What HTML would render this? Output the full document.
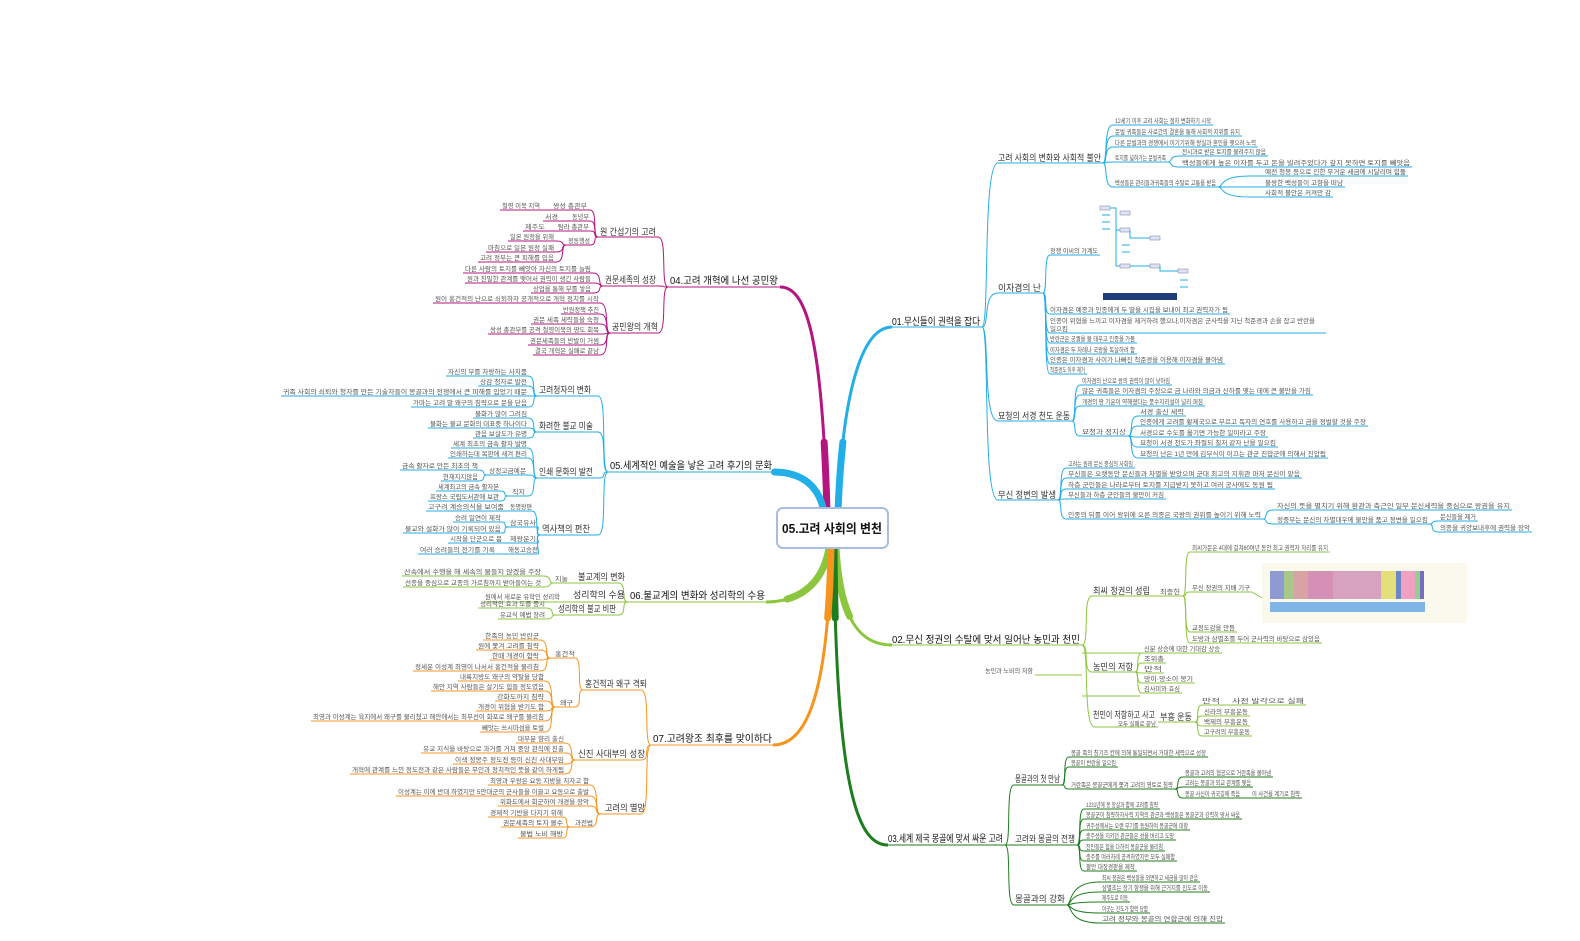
<!DOCTYPE html>
<html><head><meta charset="utf-8"><style>
html,body{margin:0;padding:0;background:#fff}
svg{display:block}
text{font-family:"Liberation Sans","Noto Sans CJK KR","NanumGothic",sans-serif;fill:#444}
.l{font-size:6.5px;fill:#555}
.s{font-size:9px;fill:#333}
.m{font-size:10px;fill:#111}
.b path{fill:none;stroke:#22aee6;stroke-width:1}
.g path{fill:none;stroke:#8cc63e;stroke-width:1}
.d path{fill:none;stroke:#1e7d1e;stroke-width:1}
.p path{fill:none;stroke:#b4157f;stroke-width:1}
.o path{fill:none;stroke:#f7941d;stroke-width:1}
path.t{stroke-width:3!important}
path.w{stroke-width:7!important;stroke-dasharray:70 2000;stroke-linecap:round}
</style></head><body>
<svg width="1580" height="941" viewBox="0 0 1580 941" xmlns="http://www.w3.org/2000/svg">

<!-- ===== Branch 01 (blue) ===== -->
<g class="b">
<path class="t" d="M838,512 C842,400 860,327 892,327"/>
<path class="w" d="M838,512 C842,400 860,327 892,327"/>
<path d="M892,327 H982"/>
<text class="m" x="892" y="325" textLength="88" lengthAdjust="spacingAndGlyphs">01.무신들이 권력을 잡다</text>
<path d="M982,327 C990,327 982,163 998,163 H1103"/>
<text class="s" x="998" y="161" textLength="103" lengthAdjust="spacingAndGlyphs">고려 사회의 변화와 사회적 불안</text>
<path d="M982,327 C990,327 982,293 998,293 H1043"/>
<text class="s" x="998" y="291" textLength="43" lengthAdjust="spacingAndGlyphs">이자겸의 난</text>
<path d="M982,327 C990,327 982,421 998,421 H1072"/>
<text class="s" x="998" y="419" textLength="72" lengthAdjust="spacingAndGlyphs">묘청의 서경 천도 운동</text>
<path d="M982,327 C990,327 982,500 998,500 H1058"/>
<text class="s" x="998" y="498" textLength="58" lengthAdjust="spacingAndGlyphs">무신 정변의 발생</text>

<path d="M1103,163 C1108,163 1103,125 1113,125 H1213"/><text class="l" x="1115" y="123" textLength="96" lengthAdjust="spacingAndGlyphs">12세기 이후 고려 사회는 점차 변화하기 시작</text>
<path d="M1103,163 C1108,163 1103,136 1113,136 H1242"/><text class="l" x="1115" y="134" textLength="125" lengthAdjust="spacingAndGlyphs">문벌 귀족들은 사로간의 결혼을 통해 사회적 지위를 유지</text>
<path d="M1103,163 C1108,163 1103,147 1113,147 H1258"/><text class="l" x="1115" y="145" textLength="141" lengthAdjust="spacingAndGlyphs">다른 문벌과의 경쟁에서 이기기위해 왕실과 혼인을 맺으려 노력</text>
<path d="M1103,163 C1108,163 1103,162 1113,162 H1168"/><text class="l" x="1115" y="160" textLength="51" lengthAdjust="spacingAndGlyphs">토지를 넓혀가는 문벌귀족</text>
<path d="M1168,162 C1173,162 1168,156 1180,156 H1268"/><text class="l" x="1182" y="154" textLength="84" lengthAdjust="spacingAndGlyphs">전시과로 받은 토지를 물려주지 않음</text>
<path d="M1168,162 C1173,162 1168,167 1180,167 H1412"/><text class="l" x="1182" y="165" textLength="228" lengthAdjust="spacingAndGlyphs">백성들에게 높은 이자를 두고 돈을 빌려주었다가 갚지 못하면 토지를 빼앗음</text>
<path d="M1103,163 C1108,163 1103,187 1113,187 H1218"/><text class="l" x="1115" y="185" textLength="101" lengthAdjust="spacingAndGlyphs">백성들은 관리들과귀족들의 수탈로 고통을 받음</text>
<path d="M1218,187 C1224,187 1218,176 1250,176 H1408"/><text class="l" x="1265" y="174" textLength="141" lengthAdjust="spacingAndGlyphs">예전 청봉 등으로 인한 무거운 세금에 시달리며 힘듦</text>
<path d="M1218,187 C1224,187 1218,187 1250,187 H1345"/><text class="l" x="1265" y="185" textLength="78" lengthAdjust="spacingAndGlyphs">불쌍한 백성들이 고향을 떠남</text>
<path d="M1218,187 C1224,187 1218,197 1250,197 H1333"/><text class="l" x="1265" y="195" textLength="66" lengthAdjust="spacingAndGlyphs">사회적 불안은 커져만 감</text>

<path d="M1043,293 C1048,293 1043,255 1050,255 H1100"/><text class="l" x="1050" y="253" textLength="48" lengthAdjust="spacingAndGlyphs">정쟁 이씨의 가계도</text>
<path d="M1043,293 C1048,293 1043,314 1050,314 H1230"/><text class="l" x="1050" y="312" textLength="178" lengthAdjust="spacingAndGlyphs">이자겸은 예종과 인종에게 두 딸을 시집을 보내어 최고 권력자가 됨</text>
<path d="M1043,293 C1048,293 1043,333 1050,333 H1326"/><text class="l" x="1050" y="323" textLength="265" lengthAdjust="spacingAndGlyphs">인종이 위협을 느끼고 이자겸을 제거하려 했으나,이자겸은 군사력을 지닌 척준경과 손을 잡고 반란을</text><text class="l" x="1050" y="331">일으킴</text>
<path d="M1043,293 C1048,293 1043,343 1050,343 H1137"/><text class="l" x="1050" y="341" textLength="85" lengthAdjust="spacingAndGlyphs">반란군은 궁궐을 불 태우고 인종을 가둠</text>
<path d="M1043,293 C1048,293 1043,354 1050,354 H1137"/><text class="l" x="1050" y="352" textLength="85" lengthAdjust="spacingAndGlyphs">이자겸은 두 차례나 국왕을 독살하려 함</text>
<path d="M1043,293 C1048,293 1043,364 1050,364 H1225"/><text class="l" x="1050" y="362" textLength="173" lengthAdjust="spacingAndGlyphs">인종은 이자겸과 사이가 나빠진 척준경을 이용해 이자겸을 몰아냄</text>
<path d="M1043,293 C1048,293 1043,374 1050,374 H1087"/><text class="l" x="1050" y="372" textLength="35" lengthAdjust="spacingAndGlyphs">척준경도 이후 제거</text>
<g fill="#dfe3f3" stroke="#8890b0" stroke-width="0.6">
<rect x="1100" y="206" width="10" height="4"/><rect x="1120" y="211" width="10" height="4"/>
<rect x="1120" y="228" width="10" height="4"/><rect x="1150" y="236" width="10" height="4"/>
<rect x="1120" y="264" width="10" height="4"/><rect x="1150" y="264" width="10" height="4"/><rect x="1178" y="269" width="10" height="4"/>
<path fill="none" d="M1110,208 H1116 V266 H1120 M1116,230 H1120 M1130,230 V238 H1150 M1130,266 H1150 M1160,266 V271 H1178"/>
<path fill="none" stroke="#bbb" d="M1102,215 H1110 M1102,222 H1110 M1102,229 H1110 M1122,245 H1130 M1122,252 H1130 M1180,280 H1188 M1180,287 H1188"/>
<rect x="1103" y="293" width="74" height="7" fill="#1e3c78" stroke="none"/>
</g>

<path d="M1072,421 C1077,421 1072,385 1080,385 H1172"/><text class="l" x="1082" y="383" textLength="88" lengthAdjust="spacingAndGlyphs">이자겸의 난으로 왕의 권력이 많이 낮아짐</text>
<path d="M1072,421 C1077,421 1072,395 1080,395 H1313"/><text class="l" x="1082" y="393" textLength="229" lengthAdjust="spacingAndGlyphs">많은 귀족들은 이자겸의 주장으로 금 나라와 의금과 신하를 맺는 데에 큰 불만을 가짐</text>
<path d="M1072,421 C1077,421 1072,406 1080,406 H1205"/><text class="l" x="1082" y="404" textLength="121" lengthAdjust="spacingAndGlyphs">개경의 땅 기운이 약해졌다는 풍수지리설이 널리 퍼짐</text>
<path d="M1072,421 C1077,421 1072,436 1080,436 H1128"/><text class="l" x="1082" y="434" textLength="44" lengthAdjust="spacingAndGlyphs">묘청과 정지상</text>
<path d="M1128,436 C1134,436 1128,416 1138,416 H1186"/><text class="l" x="1140" y="414" textLength="44" lengthAdjust="spacingAndGlyphs">서경 출신 세력</text>
<path d="M1128,436 C1134,436 1128,426 1138,426 H1368"/><text class="l" x="1140" y="424" textLength="226" lengthAdjust="spacingAndGlyphs">인종에게 고려를 황제국으로 부르고 독자의 연호를 사용하고 금을 정벌할 것을 주장</text>
<path d="M1128,436 C1134,436 1128,437 1138,437 H1268"/><text class="l" x="1140" y="435" textLength="126" lengthAdjust="spacingAndGlyphs">서경으로 수도를 옮기면 가능한 일이라고 주장</text>
<path d="M1128,436 C1134,436 1128,447 1138,447 H1278"/><text class="l" x="1140" y="445" textLength="136" lengthAdjust="spacingAndGlyphs">묘청이 서경 천도가 좌절되 칠저 같자 난을 일으킴</text>
<path d="M1128,436 C1134,436 1128,458 1138,458 H1328"/><text class="l" x="1140" y="456" textLength="186" lengthAdjust="spacingAndGlyphs">묘청의 난은 1년 만에 김부식이 이끄는 관군 진압군에 의해서 진압됨</text>

<path d="M1058,500 C1063,500 1058,468 1066,468 H1135"/><text class="l" x="1068" y="466" textLength="65" lengthAdjust="spacingAndGlyphs">고려는 원래 문신 중심의 사회임</text>
<path d="M1058,500 C1063,500 1058,478 1066,478 H1302"/><text class="l" x="1068" y="476" textLength="232" lengthAdjust="spacingAndGlyphs">무신들은 오랫동안 문신들과 차별을 받았으며 군대 최고의 지휘관 마저 문신이 맡음</text>
<path d="M1058,500 C1063,500 1058,489 1066,489 H1275"/><text class="l" x="1068" y="487" textLength="205" lengthAdjust="spacingAndGlyphs">하층 군인들은 나라로부터 토지를 지급받지 못하고 여러 공사에도 동원 됨</text>
<path d="M1058,500 C1063,500 1058,499 1066,499 H1166"/><text class="l" x="1068" y="497" textLength="96" lengthAdjust="spacingAndGlyphs">무신들과 하층 군인들의 불만이 커짐</text>
<path d="M1058,500 C1063,500 1058,519 1066,519 H1263"/><text class="l" x="1068" y="517" textLength="193" lengthAdjust="spacingAndGlyphs">인종의 뒤를 이어 왕위에 오른 의종은 국왕의 권위를 높이기 위해 노력</text>
<path d="M1263,519 C1268,519 1263,510 1273,510 H1512"/><text class="l" x="1277" y="508" textLength="233" lengthAdjust="spacingAndGlyphs">자신의 뜻을 펼치기 위해 환관과 측근인 일부 문신세력을 중심으로 왕권을 유지</text>
<path d="M1263,519 C1268,519 1263,524 1273,524 H1430"/><text class="l" x="1277" y="522" textLength="151" lengthAdjust="spacingAndGlyphs">정중부는 문신의 차별대우에 불만을 품고 정변을 일으킴</text>
<path d="M1430,524 C1434,524 1430,521 1438,521 H1478"/><text class="l" x="1440" y="519" textLength="36" lengthAdjust="spacingAndGlyphs">문신들을 제거</text>
<path d="M1430,524 C1434,524 1430,532 1438,532 H1532"/><text class="l" x="1440" y="530" textLength="90" lengthAdjust="spacingAndGlyphs">의종을 귀양보내후에 권력을 장악</text>
</g>

<!-- ===== Branch 02 (light green) ===== -->
<g class="g">
<path class="t" d="M836,548 C840,620 860,645 892,645"/>
<path class="w" d="M836,548 C840,620 860,645 892,645"/>
<path d="M892,645 H1082"/>
<text class="m" x="892" y="643" textLength="188" lengthAdjust="spacingAndGlyphs">02.무신 정권의 수탈에 맞서 일어난 농민과 천민</text>
<path d="M1082,645 C1090,645 1082,596 1092,596 H1183"/>
<text class="s" x="1093" y="594" textLength="57" lengthAdjust="spacingAndGlyphs">최씨 정권의 성립</text>
<text class="l" x="1160" y="594" textLength="20" lengthAdjust="spacingAndGlyphs">최충헌</text>
<path d="M1183,596 C1188,596 1183,552 1190,552 H1330"/><text class="l" x="1192" y="550" textLength="136" lengthAdjust="spacingAndGlyphs">최씨가문은 4대에 걸쳐60여년 동안 최고 권력자 자리를 유지</text>
<path d="M1183,596 C1188,596 1183,592 1190,592 H1252 L1262,598"/><text class="l" x="1192" y="590" textLength="58" lengthAdjust="spacingAndGlyphs">무신 정권의 지배 기구</text>
<path d="M1183,596 C1188,596 1183,632 1190,632 H1237"/><text class="l" x="1192" y="630" textLength="43" lengthAdjust="spacingAndGlyphs">교정도감을 만듬</text>
<path d="M1183,596 C1188,596 1183,643 1190,643 H1322"/><text class="l" x="1192" y="641" textLength="128" lengthAdjust="spacingAndGlyphs">도방과 삼별초를 두어 군사력의 바탕으로 삼았음</text>
<rect x="1262" y="563" width="205" height="60" fill="#fbf8ee"/>
<rect x="1270" y="571" width="14" height="28" fill="#8e9ad0"/><rect x="1284" y="571" width="10" height="28" fill="#a7c88b"/>
<rect x="1294" y="571" width="14" height="28" fill="#d9a3a3"/><rect x="1308" y="571" width="25" height="28" fill="#d590b5"/>
<rect x="1333" y="571" width="48" height="28" fill="#d7a2c0"/><rect x="1381" y="571" width="15" height="28" fill="#e3e07a"/>
<rect x="1396" y="571" width="5" height="28" fill="#6d86c8"/><rect x="1401" y="571" width="14" height="28" fill="#f0a0c0"/><rect x="1415" y="571" width="5" height="28" fill="#8fcf8f"/><rect x="1420" y="571" width="4" height="28" fill="#7a6dc0"/>
<rect x="1270" y="602" width="155" height="10" fill="#7fb5e6"/>

<path d="M1082,645 C1090,645 1082,672 1092,672 H1135"/>
<text class="s" x="1093" y="670" textLength="40" lengthAdjust="spacingAndGlyphs">농민의 저항</text>
<path d="M1035,675 H1082"/><text class="l" x="985" y="673" textLength="48" lengthAdjust="spacingAndGlyphs">농민과 노비의 저항</text>
<path d="M1082,653 H1140"/><path d="M1082,696 H1140"/>
<path d="M1135,672 C1140,672 1135,653 1142,653 H1222"/><text class="l" x="1144" y="651" textLength="76" lengthAdjust="spacingAndGlyphs">신분 상승에 대한 기대감 상승</text>
<path d="M1135,672 C1140,672 1135,663 1142,663 H1166"/><text class="l" x="1144" y="661" textLength="20" lengthAdjust="spacingAndGlyphs">조위총</text>
<path d="M1135,672 C1140,672 1135,673 1142,673 H1164"/><text class="l" x="1144" y="671" textLength="18" lengthAdjust="spacingAndGlyphs">만적</text>
<path d="M1135,672 C1140,672 1135,683 1142,683 H1195"/><text class="l" x="1144" y="681" textLength="49" lengthAdjust="spacingAndGlyphs">망이·망소이 봉기</text>
<path d="M1135,672 C1140,672 1135,693 1142,693 H1182"/><text class="l" x="1144" y="691" textLength="36" lengthAdjust="spacingAndGlyphs">김사미와 효심</text>

<path d="M1082,645 C1090,645 1082,727 1095,727 H1158"/>
<text class="s" x="1093" y="718" textLength="62" lengthAdjust="spacingAndGlyphs">천민이 저항하고 사고</text>
<text class="l" x="1118" y="726" textLength="38" lengthAdjust="spacingAndGlyphs">모두 실패로 끝남</text>
<path d="M1158,722 H1195"/>
<text class="s" x="1160" y="720" textLength="32" lengthAdjust="spacingAndGlyphs">부흥 운동</text>
<path d="M1195,722 C1200,722 1195,705 1202,705 H1228"/><text class="l" x="1202" y="703" textLength="18" lengthAdjust="spacingAndGlyphs">만적</text>
<path d="M1228,705 H1306"/><text class="l" x="1232" y="703" textLength="72" lengthAdjust="spacingAndGlyphs">사전 발각으로 실패</text>
<path d="M1195,722 C1200,722 1195,716 1202,716 H1250"/><text class="l" x="1204" y="714" textLength="44" lengthAdjust="spacingAndGlyphs">신라의 부흥운동</text>
<path d="M1195,722 C1200,722 1195,726 1202,726 H1250"/><text class="l" x="1204" y="724" textLength="44" lengthAdjust="spacingAndGlyphs">백제의 부흥운동</text>
<path d="M1195,722 C1200,722 1195,736 1202,736 H1252"/><text class="l" x="1204" y="734" textLength="46" lengthAdjust="spacingAndGlyphs">고구려의 부흥운동</text>
</g>

<!-- ===== Branch 03 (dark green) ===== -->
<g class="d">
<path class="t" d="M834,548 C836,800 860,845 888,845"/>
<path class="w" d="M834,548 C836,800 860,845 888,845"/>
<path d="M888,845 H1005"/>
<text class="m" x="888" y="842" textLength="115" lengthAdjust="spacingAndGlyphs">03.세계 제국 몽골에 맞서 싸운 고려</text>
<path d="M1005,845 C1012,845 1005,785 1014,785 H1062"/><text class="s" x="1015" y="782" textLength="45" lengthAdjust="spacingAndGlyphs">몽골과의 첫 만남</text>
<path d="M1005,845 C1012,845 1005,845 1014,845 H1077"/><text class="s" x="1015" y="842" textLength="60" lengthAdjust="spacingAndGlyphs">고려와 몽골의 전쟁</text>
<path d="M1005,845 C1012,845 1005,905 1014,905 H1067"/><text class="s" x="1015" y="902" textLength="50" lengthAdjust="spacingAndGlyphs">몽골과의 강화</text>

<path d="M1062,785 C1067,785 1062,757 1069,757 H1208"/><text class="l" x="1071" y="755" textLength="135" lengthAdjust="spacingAndGlyphs">몽골 족의 칭기즈 칸에 의해 통일되면서 거대한 세력으로 성장</text>
<path d="M1062,785 C1067,785 1062,767 1069,767 H1118"/><text class="l" x="1071" y="765" textLength="45" lengthAdjust="spacingAndGlyphs">몽골이 반란을 일으킴</text>
<path d="M1062,785 C1067,785 1062,789 1069,789 H1175"/><text class="l" x="1071" y="787" textLength="102" lengthAdjust="spacingAndGlyphs">거란족은 몽골군에게 쫓겨 고려의 영토로 침략</text>
<path d="M1175,789 C1180,789 1175,777 1183,777 H1273"/><text class="l" x="1185" y="775" textLength="86" lengthAdjust="spacingAndGlyphs">몽골과 고려의 협공으로 거란족을 몰아냄</text>
<path d="M1175,789 C1180,789 1175,787 1183,787 H1253"/><text class="l" x="1185" y="785" textLength="66" lengthAdjust="spacingAndGlyphs">고려는 몽골과 외교 관계를 맺음</text>
<path d="M1175,789 C1180,789 1175,798 1183,798 H1302"/><text class="l" x="1185" y="796" textLength="55" lengthAdjust="spacingAndGlyphs">몽골 사신이 귀국길에 죽음</text><text class="l" x="1252" y="796" textLength="48" lengthAdjust="spacingAndGlyphs">이 사건을 계기로 침략</text>

<path d="M1077,845 C1082,845 1077,809 1084,809 H1160"/><text class="l" x="1086" y="807" textLength="72" lengthAdjust="spacingAndGlyphs">1231년에 몽 장살과 함께 고려를 침략</text>
<path d="M1077,845 C1082,845 1077,819 1084,819 H1242"/><text class="l" x="1086" y="817" textLength="154" lengthAdjust="spacingAndGlyphs">몽골군이 침략하자사력 지역의 관군과 백성들은 몽골군과 강력히 맞서 싸움</text>
<path d="M1077,845 C1082,845 1077,830 1084,830 H1190"/><text class="l" x="1086" y="828" textLength="102" lengthAdjust="spacingAndGlyphs">귀주성에서는 오랜 무기를 동원하여 몽골군에 대항</text>
<path d="M1077,845 C1082,845 1077,840 1084,840 H1176"/><text class="l" x="1086" y="838" textLength="88" lengthAdjust="spacingAndGlyphs">충주성을 지키던 관군들은 성을 버리고 도망</text>
<path d="M1077,845 C1082,845 1077,851 1084,851 H1165"/><text class="l" x="1086" y="849" textLength="77" lengthAdjust="spacingAndGlyphs">천민들은 힘을 다하여 몽골군을 물리침</text>
<path d="M1077,845 C1082,845 1077,861 1084,861 H1177"/><text class="l" x="1086" y="859" textLength="89" lengthAdjust="spacingAndGlyphs">충주를 여러차례 공격하였지만 모두 실패함</text>
<path d="M1077,845 C1082,845 1077,871 1084,871 H1137"/><text class="l" x="1086" y="869" textLength="49" lengthAdjust="spacingAndGlyphs">팔만 대장경판을 제작</text>

<path d="M1067,905 C1072,905 1067,882 1100,882 H1200"/><text class="l" x="1102" y="880" textLength="96" lengthAdjust="spacingAndGlyphs">최씨 정권은 백성들을 외면하고 세금을 많이 걷음</text>
<path d="M1067,905 C1072,905 1067,892 1100,892 H1210"/><text class="l" x="1102" y="890" textLength="106" lengthAdjust="spacingAndGlyphs">삼별초는 장기 항쟁을 위해 근거지를 진도로 이동</text>
<path d="M1067,905 C1072,905 1067,902 1100,902 H1130"/><text class="l" x="1102" y="900" textLength="26" lengthAdjust="spacingAndGlyphs">제주도로 이동</text>
<path d="M1067,905 C1072,905 1067,913 1100,913 H1150"/><text class="l" x="1102" y="911" textLength="46" lengthAdjust="spacingAndGlyphs">이곳는 진도가 함락 당함</text>
<path d="M1067,905 C1072,905 1067,923 1100,923 H1225"/><text class="l" x="1102" y="921" textLength="121" lengthAdjust="spacingAndGlyphs">고려 정부와 몽골의 연합군에 의해 진압</text>
</g>

<!-- ===== Branch 04 (magenta) ===== -->
<g class="p">
<path class="t" d="M827,512 C822,330 805,287 780,287"/>
<path class="w" d="M827,512 C822,330 805,287 780,287"/>
<path d="M780,287 H668"/>
<text class="m" x="670" y="284" textLength="108" lengthAdjust="spacingAndGlyphs">04.고려 개혁에 나선 공민왕</text>
<path d="M668,287 C660,287 668,237 658,237 H598"/><text class="s" x="600" y="235" textLength="56" lengthAdjust="spacingAndGlyphs">원 간섭기의 고려</text>
<path d="M668,287 C660,287 668,286 658,286 H603"/><text class="s" x="605" y="283" textLength="51" lengthAdjust="spacingAndGlyphs">권문세족의 성장</text>
<path d="M668,287 C660,287 668,333 658,333 H610"/><text class="s" x="612" y="330" textLength="46" lengthAdjust="spacingAndGlyphs">공민왕의 개혁</text>

<path d="M598,237 C592,237 598,210 590,210 H500"/><text class="l" x="553" y="208" textLength="34" lengthAdjust="spacingAndGlyphs">쌍성 총관부</text><text class="l" x="502" y="208" textLength="38" lengthAdjust="spacingAndGlyphs">철령 이북 지역</text>
<path d="M598,237 C592,237 598,221 590,221 H543"/><text class="l" x="572" y="219" textLength="17" lengthAdjust="spacingAndGlyphs">동녕부</text><text class="l" x="545" y="219" textLength="13" lengthAdjust="spacingAndGlyphs">서경</text>
<path d="M598,237 C592,237 598,231 590,231 H523"/><text class="l" x="558" y="229" textLength="31" lengthAdjust="spacingAndGlyphs">탐라 총관부</text><text class="l" x="525" y="229" textLength="20" lengthAdjust="spacingAndGlyphs">제주도</text>
<path d="M598,237 C592,237 598,245 590,245 H566"/><text class="l" x="568" y="243" textLength="22" lengthAdjust="spacingAndGlyphs">정동행성</text>
<path d="M566,245 C560,245 566,241 556,241 H508"/><text class="l" x="510" y="239" textLength="44" lengthAdjust="spacingAndGlyphs">일본 원정을 위해</text>
<path d="M566,245 C560,245 566,252 556,252 H486"/><text class="l" x="488" y="250" textLength="66" lengthAdjust="spacingAndGlyphs">마침으로 일본 원정 실패</text>
<path d="M566,245 C560,245 566,262 556,262 H478"/><text class="l" x="480" y="260" textLength="74" lengthAdjust="spacingAndGlyphs">고려 정부는 큰 피해를 입음</text>

<path d="M603,286 C597,286 603,273 593,273 H463"/><text class="l" x="465" y="271" textLength="126" lengthAdjust="spacingAndGlyphs">다른 사람의 토지를 빼앗아 자신의 토지를 늘림</text>
<path d="M603,286 C597,286 603,283 593,283 H465"/><text class="l" x="467" y="281" textLength="124" lengthAdjust="spacingAndGlyphs">원과 친밀한 관계를 맺어서 권력이 생긴 사람들</text>
<path d="M603,286 C597,286 603,293 593,293 H531"/><text class="l" x="533" y="291" textLength="58" lengthAdjust="spacingAndGlyphs">상업을 통해 부를 쌓음</text>

<path d="M610,333 C604,333 610,303 600,303 H433"/><text class="l" x="435" y="301" textLength="164" lengthAdjust="spacingAndGlyphs">원이 홍건적의 난으로 쇠퇴하자 공개적으로 개혁 정치를 시작</text>
<path d="M610,333 C604,333 610,314 600,314 H561"/><text class="l" x="563" y="312" textLength="36" lengthAdjust="spacingAndGlyphs">반원정책 추진</text>
<path d="M610,333 C604,333 610,324 600,324 H531"/><text class="l" x="533" y="322" textLength="66" lengthAdjust="spacingAndGlyphs">권문 세족 세력들을 숙청</text>
<path d="M610,333 C604,333 610,334 600,334 H488"/><text class="l" x="490" y="332" textLength="109" lengthAdjust="spacingAndGlyphs">쌍성 총관부를 공격 철령이북의 땅도 회복</text>
<path d="M610,333 C604,333 610,345 600,345 H528"/><text class="l" x="530" y="343" textLength="69" lengthAdjust="spacingAndGlyphs">권문세족들의 반발이 거셈</text>
<path d="M610,333 C604,333 610,355 600,355 H533"/><text class="l" x="535" y="353" textLength="64" lengthAdjust="spacingAndGlyphs">결국 개혁은 실패로 끝남</text>
</g>

<!-- ===== Branch 05 (blue) ===== -->
<g class="b">
<path class="t" d="M824,512 C818,480 795,472 773,472"/>
<path class="w" d="M824,512 C818,480 795,472 773,472"/>
<path d="M773,472 H608"/>
<text class="m" x="610" y="469" textLength="162" lengthAdjust="spacingAndGlyphs">05.세계적인 예술을 낳은 고려 후기의 문화</text>
<path d="M608,472 C600,472 608,396 598,396 H537"/><text class="s" x="539" y="393" textLength="52" lengthAdjust="spacingAndGlyphs">고려청자의 변화</text>
<path d="M608,472 C600,472 608,432 598,432 H537"/><text class="s" x="539" y="429" textLength="54" lengthAdjust="spacingAndGlyphs">화려한 불교 미술</text>
<path d="M608,472 C600,472 608,478 598,478 H537"/><text class="s" x="539" y="475" textLength="54" lengthAdjust="spacingAndGlyphs">인쇄 문화의 발전</text>
<path d="M608,472 C600,472 608,535 598,535 H540"/><text class="s" x="542" y="532" textLength="48" lengthAdjust="spacingAndGlyphs">역사책의 편찬</text>

<path d="M537,396 C531,396 537,376 528,376 H446"/><text class="l" x="448" y="374" textLength="79" lengthAdjust="spacingAndGlyphs">자신의 부를 자랑하는 사치품</text>
<path d="M537,396 C531,396 537,386 528,386 H478"/><text class="l" x="480" y="384" textLength="47" lengthAdjust="spacingAndGlyphs">상감 청자로 발전</text>
<path d="M537,396 C531,396 537,396 528,396 H281"/><text class="l" x="283" y="394" textLength="244" lengthAdjust="spacingAndGlyphs">귀족 사회의 쇠퇴와 청자를 만든 기술자들이 몽골과의 전쟁에서 큰 피해를 입었기 때문</text>
<path d="M537,396 C531,396 537,407 528,407 H411"/><text class="l" x="413" y="405" textLength="114" lengthAdjust="spacingAndGlyphs">가마는 고려 말 왜구의 침략으로 문을 닫음</text>

<path d="M537,432 C531,432 537,418 528,418 H473"/><text class="l" x="475" y="416" textLength="52" lengthAdjust="spacingAndGlyphs">불화가 많이 그려짐</text>
<path d="M537,432 C531,432 537,428 528,428 H428"/><text class="l" x="430" y="426" textLength="97" lengthAdjust="spacingAndGlyphs">불화는 불교 문화의 대표중 하나이다</text>
<path d="M537,432 C531,432 537,438 528,438 H473"/><text class="l" x="475" y="436" textLength="52" lengthAdjust="spacingAndGlyphs">관음 보살도가 유명</text>

<path d="M537,478 C531,478 537,448 528,448 H451"/><text class="l" x="453" y="446" textLength="74" lengthAdjust="spacingAndGlyphs">세계 최초의 금속 활자 발명</text>
<path d="M537,478 C531,478 537,458 528,458 H448"/><text class="l" x="450" y="456" textLength="77" lengthAdjust="spacingAndGlyphs">인쇄하는데 목판에 새겨 편리</text>
<path d="M537,478 C531,478 537,475 528,475 H487"/><text class="l" x="489" y="473" textLength="37" lengthAdjust="spacingAndGlyphs">상정고금예문</text>
<path d="M487,475 C481,475 487,470 478,470 H400"/><text class="l" x="402" y="468" textLength="76" lengthAdjust="spacingAndGlyphs">금속 활자로 만든 최초의 책</text>
<path d="M487,475 C481,475 487,481 478,481 H441"/><text class="l" x="443" y="479" textLength="35" lengthAdjust="spacingAndGlyphs">현재지지않음</text>
<path d="M537,478 C531,478 537,496 528,496 H508"/><text class="l" x="512" y="494" textLength="13" lengthAdjust="spacingAndGlyphs">직지</text>
<path d="M508,496 C502,496 508,491 500,491 H436"/><text class="l" x="438" y="489" textLength="61" lengthAdjust="spacingAndGlyphs">세계최고의 금속 활자본</text>
<path d="M508,496 C502,496 508,501 500,501 H428"/><text class="l" x="430" y="499" textLength="69" lengthAdjust="spacingAndGlyphs">프랑스 국립도서관에 보관</text>

<path d="M540,535 C534,535 540,511 532,511 H426"/><text class="l" x="510" y="509" textLength="22" lengthAdjust="spacingAndGlyphs">동명왕편</text><text class="l" x="428" y="509" textLength="76" lengthAdjust="spacingAndGlyphs">고구려 계승의식을 보여줌</text>
<path d="M540,535 C534,535 540,527 538,527 H508"/><text class="l" x="510" y="525" textLength="26" lengthAdjust="spacingAndGlyphs">삼국유사</text>
<path d="M508,527 C502,527 508,522 502,522 H453"/><text class="l" x="455" y="520" textLength="46" lengthAdjust="spacingAndGlyphs">승려 일연이 제작</text>
<path d="M508,527 C502,527 508,533 502,533 H403"/><text class="l" x="405" y="531" textLength="96" lengthAdjust="spacingAndGlyphs">불교와 설화가 많이 기록되어 있음</text>
<path d="M540,535 C534,535 540,543 538,543 H448"/><text class="l" x="510" y="541" textLength="26" lengthAdjust="spacingAndGlyphs">제왕운기</text><text class="l" x="450" y="541" textLength="52" lengthAdjust="spacingAndGlyphs">시작을 단군으로 봄</text>
<path d="M540,535 C534,535 540,554 538,554 H418"/><text class="l" x="508" y="552" textLength="30" lengthAdjust="spacingAndGlyphs">해동고승전</text><text class="l" x="420" y="552" textLength="75" lengthAdjust="spacingAndGlyphs">여러 승려들의 전기를 기록</text>
</g>

<!-- ===== Branch 06 (light green) ===== -->
<g class="g">
<path class="t" d="M829,548 C822,590 792,602 766,602"/>
<path class="w" d="M829,548 C822,590 792,602 766,602"/>
<path d="M766,602 H628"/>
<text class="m" x="630" y="599" textLength="135" lengthAdjust="spacingAndGlyphs">06.불교계의 변화와 성리학의 수용</text>
<path d="M628,602 C620,602 628,583 618,583 H575"/><text class="s" x="578" y="580" textLength="47" lengthAdjust="spacingAndGlyphs">불교계의 변화</text>
<path d="M575,583 H553"/><text class="l" x="555" y="581" textLength="13" lengthAdjust="spacingAndGlyphs">지눌</text>
<path d="M553,583 C548,583 553,576 543,576 H402"/><text class="l" x="404" y="574" textLength="137" lengthAdjust="spacingAndGlyphs">산속에서 수행을 해 세속의 물들지 않겠을 주장</text>
<path d="M553,583 C548,583 553,587 543,587 H403"/><text class="l" x="405" y="585" textLength="136" lengthAdjust="spacingAndGlyphs">선종을 중심으로 교종의 가르침까지 받아들이는 것</text>
<path d="M628,602 H483"/><text class="s" x="573" y="598" textLength="52" lengthAdjust="spacingAndGlyphs">성리학의 수용</text><text class="l" x="485" y="599" textLength="75" lengthAdjust="spacingAndGlyphs">원에서 새로운 유학인 성리학</text>
<path d="M628,602 C620,602 628,615 618,615 H555"/><text class="s" x="558" y="612" textLength="58" lengthAdjust="spacingAndGlyphs">성리학의 불교 비판</text>
<path d="M555,615 C550,615 555,608 546,608 H478"/><text class="l" x="480" y="606" textLength="65" lengthAdjust="spacingAndGlyphs">성리적인 효과 도를 중시</text>
<path d="M555,615 C550,615 555,619 546,619 H498"/><text class="l" x="500" y="617" textLength="45" lengthAdjust="spacingAndGlyphs">유교식 예법 장려</text>
</g>

<!-- ===== Branch 07 (orange) ===== -->
<g class="o">
<path class="t" d="M831,548 C828,700 805,745 773,745"/>
<path class="w" d="M831,548 C828,700 805,745 773,745"/>
<path d="M773,745 H651"/>
<text class="m" x="653" y="742" textLength="119" lengthAdjust="spacingAndGlyphs">07.고려왕조 최후를 맞이하다</text>
<path d="M651,745 C643,745 651,690 641,690 H583"/><text class="s" x="585" y="687" textLength="62" lengthAdjust="spacingAndGlyphs">홍건적과 왜구 격퇴</text>
<path d="M651,745 C643,745 651,760 641,760 H575"/><text class="s" x="578" y="757" textLength="67" lengthAdjust="spacingAndGlyphs">신진 사대부의 성장</text>
<path d="M651,745 C643,745 651,814 641,814 H600"/><text class="s" x="605" y="811" textLength="40" lengthAdjust="spacingAndGlyphs">고려의 멸망</text>

<path d="M583,690 C576,690 583,658 575,658 H550"/><text class="l" x="555" y="656" textLength="20" lengthAdjust="spacingAndGlyphs">홍건적</text>
<path d="M550,658 C544,658 550,640 540,640 H483"/><text class="l" x="485" y="638" textLength="54" lengthAdjust="spacingAndGlyphs">한족의 농민 반란군</text>
<path d="M550,658 C544,658 550,650 540,650 H476"/><text class="l" x="478" y="648" textLength="61" lengthAdjust="spacingAndGlyphs">원에 쫓겨 고려를 침략</text>
<path d="M550,658 C544,658 550,660 540,660 H490"/><text class="l" x="492" y="658" textLength="47" lengthAdjust="spacingAndGlyphs">한때 개경이 함락</text>
<path d="M550,658 C544,658 550,671 540,671 H413"/><text class="l" x="415" y="669" textLength="124" lengthAdjust="spacingAndGlyphs">정세운 이성계 최영이 나서서 홍건적을 물리침</text>
<path d="M583,690 C576,690 583,707 575,707 H555"/><text class="l" x="560" y="705" textLength="13" lengthAdjust="spacingAndGlyphs">왜구</text>
<path d="M555,707 C549,707 555,681 545,681 H458"/><text class="l" x="460" y="679" textLength="84" lengthAdjust="spacingAndGlyphs">내륙지방도 왜구의 약탈을 당함</text>
<path d="M555,707 C549,707 555,691 545,691 H431"/><text class="l" x="433" y="689" textLength="111" lengthAdjust="spacingAndGlyphs">해안 지역 사람들은 살기도 힘들 정도였음</text>
<path d="M555,707 C549,707 555,701 545,701 H495"/><text class="l" x="497" y="699" textLength="47" lengthAdjust="spacingAndGlyphs">강화도까지 침략</text>
<path d="M555,707 C549,707 555,711 545,711 H476"/><text class="l" x="478" y="709" textLength="66" lengthAdjust="spacingAndGlyphs">개경이 위협을 받기도 함</text>
<path d="M555,707 C549,707 555,721 545,721 H311"/><text class="l" x="313" y="719" textLength="231" lengthAdjust="spacingAndGlyphs">최영과 이성계는 육지에서 왜구를 물리쳤고 해안에서는 최무선이 화포로 왜구를 물리침</text>
<path d="M555,707 C549,707 555,732 545,732 H480"/><text class="l" x="482" y="730" textLength="62" lengthAdjust="spacingAndGlyphs">빼앗는 쓰시마섬을 토벌</text>

<path d="M575,760 C569,760 575,743 565,743 H516"/><text class="l" x="518" y="741" textLength="46" lengthAdjust="spacingAndGlyphs">대부분 향리 출신</text>
<path d="M575,760 C569,760 575,753 565,753 H421"/><text class="l" x="423" y="751" textLength="141" lengthAdjust="spacingAndGlyphs">유교 지식을 바탕으로 과거를 거쳐 중앙 관직에 진출</text>
<path d="M575,760 C569,760 575,764 565,764 H453"/><text class="l" x="455" y="762" textLength="109" lengthAdjust="spacingAndGlyphs">이색 정몽주 정도전 등이 신진 사대부임</text>
<path d="M575,760 C569,760 575,774 565,774 H350"/><text class="l" x="352" y="772" textLength="212" lengthAdjust="spacingAndGlyphs">개혁에 관계를 느낀 정도전과 같은 사람들은 무인과 정치적인 뜻을 같이 하게됨</text>

<path d="M600,814 C594,814 600,785 590,785 H488"/><text class="l" x="490" y="783" textLength="99" lengthAdjust="spacingAndGlyphs">최영과 우왕은 요동 지방을 치자고 함</text>
<path d="M600,814 C594,814 600,796 590,796 H396"/><text class="l" x="398" y="794" textLength="191" lengthAdjust="spacingAndGlyphs">이성계는 이에 반대 하였지만 5만대군의 군사들을 이끌고 요동으로 출발</text>
<path d="M600,814 C594,814 600,806 590,806 H498"/><text class="l" x="500" y="804" textLength="89" lengthAdjust="spacingAndGlyphs">위화도에서 회군하여 개경을 장악</text>
<path d="M600,814 C594,814 600,827 590,827 H570"/><text class="l" x="575" y="825" textLength="18" lengthAdjust="spacingAndGlyphs">과전법</text>
<path d="M570,827 C564,827 570,817 562,817 H488"/><text class="l" x="490" y="815" textLength="73" lengthAdjust="spacingAndGlyphs">경제적 기반을 다지기 위해</text>
<path d="M570,827 C564,827 570,827 562,827 H501"/><text class="l" x="503" y="825" textLength="60" lengthAdjust="spacingAndGlyphs">권문세족의 토지 몰수</text>
<path d="M570,827 C564,827 570,838 562,838 H518"/><text class="l" x="520" y="836" textLength="43" lengthAdjust="spacingAndGlyphs">불법 노비 해방</text>
</g>

<rect x="777" y="508" width="111" height="40" rx="6" fill="#fff" stroke="#a9bde0" stroke-width="2"/>
<text x="832" y="533" text-anchor="middle" style="font-size:12.5px;font-weight:bold;fill:#111" textLength="100" lengthAdjust="spacingAndGlyphs">05.고려 사회의 변천</text>
</svg>
</body></html>
